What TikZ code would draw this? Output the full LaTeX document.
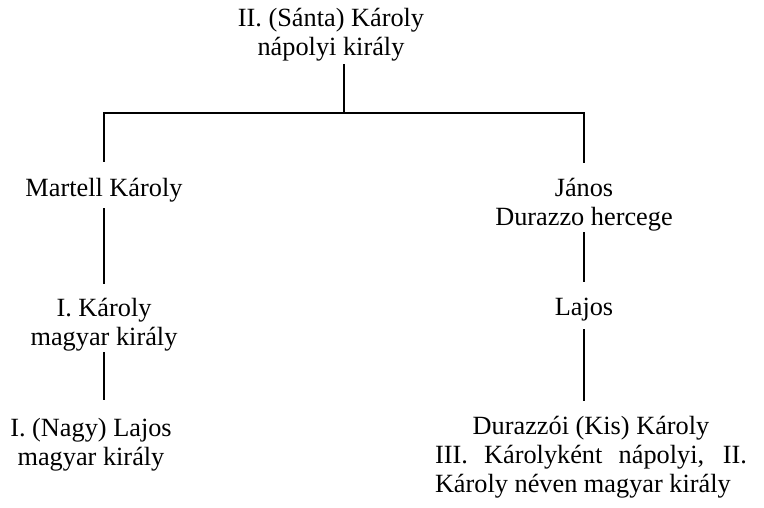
\documentclass[tikz,border=0pt]{standalone}
\usepackage{fontspec}
\setmainfont{Liberation Serif}
\begin{document}
\begin{tikzpicture}[x=1pt,y=-1pt,
  person/.style={inner sep=0pt, align=center, anchor=base,
    font=\fontsize{26.3pt}{29pt}\selectfont},
  link/.style={line width=2pt, line cap=rect}]
\useasboundingbox (0,0) rectangle (764,507);

% family members (placed by the baseline of their last line)
\node[person] (root) at (331,55)  {II. (Sánta) Károly\\nápolyi király};
\node[person] (mk)   at (104,196) {Martell Károly};
\node[person] (jd)   at (584,225) {János\\Durazzo hercege};
\node[person] (ik)   at (104,345) {I. Károly\\magyar király};
\node[person] (la)   at (584,315) {Lajos};
\node[person] (nl)   at (91,465)  {I. (Nagy) Lajos\\magyar király};
\node[person] (kk)   at (591,492) {\makebox[312pt][c]{Durazzói (Kis) Károly}\\
  \makebox[312pt][s]{III. Károlyként nápolyi, II.}\\
  \makebox[312pt][l]{Károly néven magyar király}};

% junction of the two branches
\coordinate (bus) at (344,113);

% descent lines
\draw[link, shorten <=4.3pt] (root.south -| bus) -- (bus);
\draw[link] (mk.north |- bus) -- (jd.north |- bus);
\draw[link, shorten >=17pt] (mk.north |- bus) -- (mk.north);
\draw[link, shorten >=16pt] (jd.north |- bus) -- (jd.north);
\draw[link, shorten <=7.3pt, shorten >=15pt] (mk.south) -- (ik.north);
\draw[link, shorten <=2.3pt, shorten >=16pt] (jd.south) -- (la.north);
\draw[link, shorten <=2.3pt, shorten >=18.7pt] (ik.south) -- (ik.south |- nl.north);
\draw[link, shorten <=9.3pt, shorten >=15.7pt] (la.south) -- (la.south |- kk.north);
\end{tikzpicture}
\end{document}
